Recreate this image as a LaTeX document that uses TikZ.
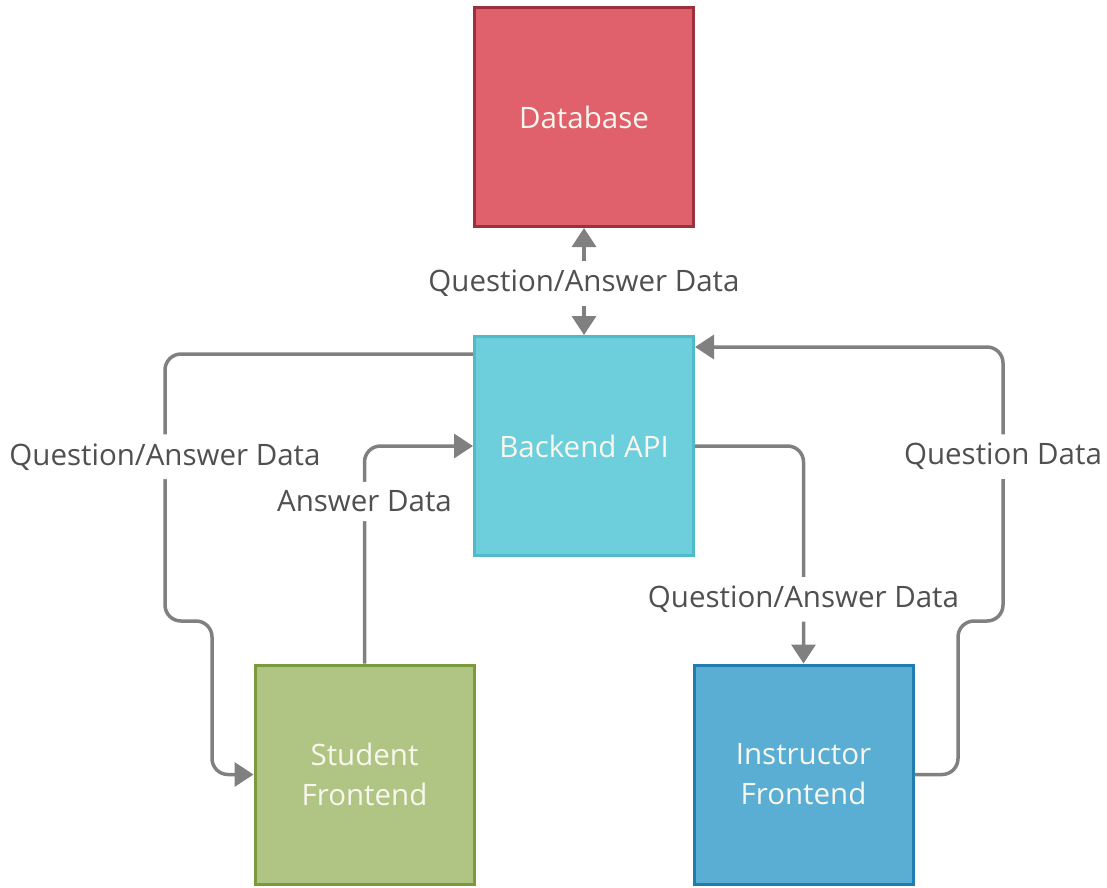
\documentclass[tikz,border=0pt]{standalone}
\usepackage{fontspec}
\setmainfont{Open Sans}
\usetikzlibrary{arrows.meta}
\definecolor{dbfill}{HTML}{E0606C}
\definecolor{dbline}{HTML}{9E2F3C}
\definecolor{apifill}{HTML}{6DCFDC}
\definecolor{apiline}{HTML}{4FBAC8}
\definecolor{stfill}{HTML}{B0C484}
\definecolor{stline}{HTML}{7A9A3C}
\definecolor{infill}{HTML}{5AAED4}
\definecolor{inline}{HTML}{1F7DB0}
\definecolor{wire}{HTML}{808080}
\definecolor{labeltext}{HTML}{505050}
\definecolor{boxtext}{HTML}{F7F7EE}
\tikzset{
  block/.style={draw, line width=3pt, minimum width=219pt, minimum height=219pt,
    inner sep=0pt, align=center, text=boxtext, font=\fontsize{29.5}{40}\selectfont},
  wirestyle/.style={draw=wire, line width=3.5pt, rounded corners=16pt,
    -{Triangle[length=19pt,width=24pt]}},
  flowlabel/.style={fill=white, text=labeltext, inner xsep=3pt, inner ysep=9pt,
    font=\fontsize{29.5}{34}\selectfont}
}
\begin{document}
\begin{tikzpicture}[x=1pt,y=-1pt]
\useasboundingbox (0,0) rectangle (1107,887);
% components
\node[block, fill=dbfill, draw=dbline] (db) at (584,117) {Database};
\node[block, fill=apifill, draw=apiline] (api) at (584,446) {Backend API};
\node[block, fill=stfill, draw=stline] (stu) at (364.5,774.5) {Student\\Frontend};
\node[block, fill=infill, draw=inline] (ins) at (803.5,774.5) {Instructor\\Frontend};
% routing points
\coordinate (l1) at (165,354);
\coordinate (l2) at (165,621);
\coordinate (l3) at (212,621);
\coordinate (l4) at (212,774.5);
\coordinate (a1) at (364.5,446);
\coordinate (b1) at (803.5,446);
\coordinate (r1) at (958,774.5);
\coordinate (r2) at (958,621);
\coordinate (r3) at (1003,621);
\coordinate (r4) at (1003,347);
% database <-> backend
\draw[wirestyle, {Triangle[length=19pt,width=24pt]}-{Triangle[length=19pt,width=24pt]}]
  (db.south) -- node[flowlabel, yshift=-2pt] {Question/Answer Data} (api.north);
% backend -> student
\draw[wirestyle] (api.west |- l1) -- (l1) -- node[flowlabel, pos=0.385] {Question/Answer Data} (l2)
  -- (l3) -- (l4) -- (stu.west);
% student -> backend
\draw[wirestyle] (stu.north) -- node[flowlabel, pos=0.745] {Answer Data} (a1) -- (api.west);
% backend -> instructor
\draw[wirestyle] (api.east) -- (b1) -- node[flowlabel, pos=0.705] {Question/Answer Data} (ins.north);
% instructor -> backend
\draw[wirestyle] (ins.east) -- (r1) -- (r2) -- (r3)
  -- node[flowlabel, pos=0.6] {Question Data} (r4) -- (api.east |- r4);
\end{tikzpicture}
\end{document}
